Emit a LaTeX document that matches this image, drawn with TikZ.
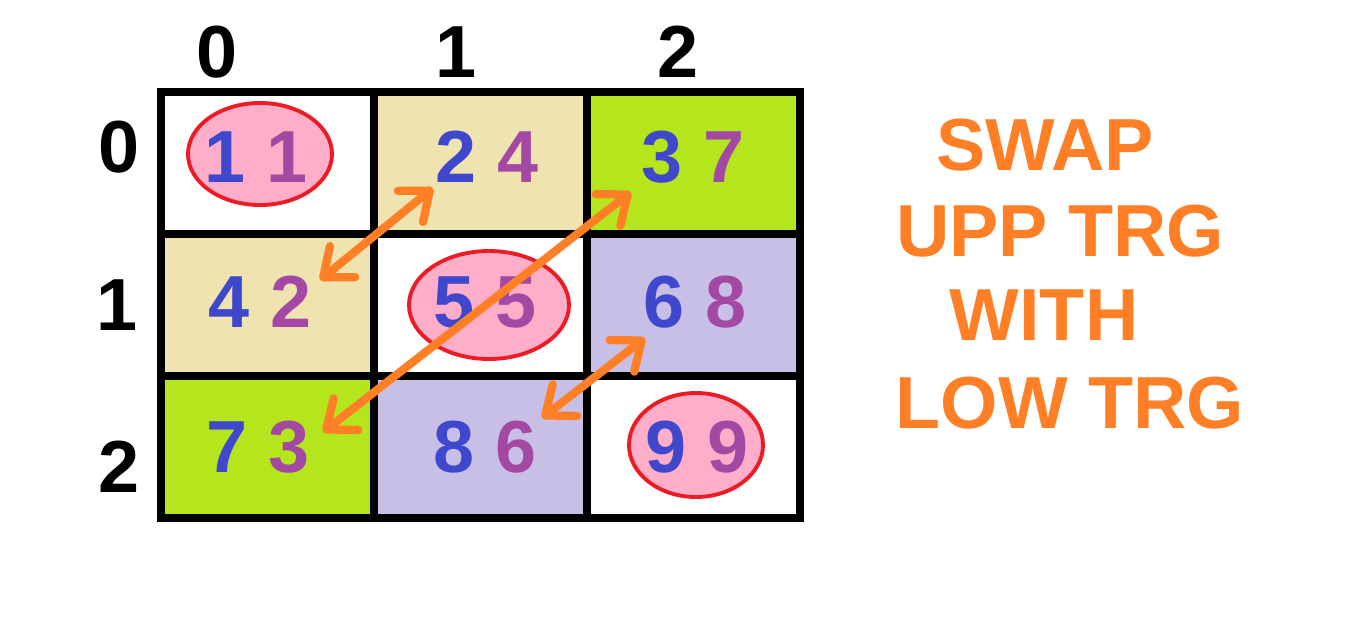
\documentclass[tikz,border=0pt]{standalone}
\usepackage{fontspec}
\setmainfont{Liberation Sans}
\usetikzlibrary{arrows.meta}
\definecolor{tancell}{HTML}{EFE4B0}
\definecolor{limecell}{HTML}{B5E61D}
\definecolor{lavcell}{HTML}{C8BFE7}
\definecolor{pinkoval}{HTML}{FFAEC9}
\definecolor{redline}{HTML}{ED1C24}
\definecolor{swaporange}{HTML}{FF7F27}
\definecolor{digblue}{HTML}{3F48CC}
\definecolor{digpurple}{HTML}{A349A4}
\newcommand{\pair}[2]{{\color{digblue}#1} {\color{digpurple}#2}}
\tikzset{
	bignum/.style={anchor=base,inner sep=0pt,font=\fontsize{42}{50}\selectfont\bfseries},
	swaptext/.style={bignum,text=swaporange},
	diag/.style={draw=redline,line width=2.2pt,fill=pinkoval},
	swaparrow/.style={swaporange,line width=4.7pt,
		{Straight Barb[round,length=0.5cm,width=0.8cm]}-{Straight Barb[round,length=0.5cm,width=0.8cm]}}
}

\begin{document}
\begin{tikzpicture}[x=0.02cm,y=-0.02cm]
		\useasboundingbox (0,0) rectangle (1360,640);
		% cell fills
		\fill[tancell] (374,92) rectangle (587,234);
		\fill[limecell] (587,92) rectangle (800,234);
		\fill[tancell] (161,234) rectangle (374,376);
		\fill[lavcell] (587,234) rectangle (800,376);
		\fill[limecell] (161,376) rectangle (374,518);
		\fill[lavcell] (374,376) rectangle (587,518);
		% diagonal ovals
		\draw[diag] (260,154) ellipse [x radius=72, y radius=51];
		\draw[diag] (489,305) ellipse [x radius=80, y radius=54];
		\draw[diag] (696,445) ellipse [x radius=67, y radius=52];
		% grid
		\draw[line width=4.5pt] (161,92) rectangle (800,518);
		\draw[line width=4.5pt] (374,92) -- (374,518);
		\draw[line width=4.5pt] (587,92) -- (587,518);
		\draw[line width=4.5pt] (161,234) -- (800,234);
		\draw[line width=4.5pt] (161,376) -- (800,376);

		% column and row numbers
		\node[bignum] (col0) at (217,77) {0};
		\node[bignum] (col1) at (456,77) {1};
		\node[bignum] (col2) at (678,77) {2};
		\node[bignum] (row0) at (119,172) {0};
		\node[bignum] (row1) at (117,330) {1};
		\node[bignum] (row2) at (119,492) {2};

		% cell entries
		\node[bignum] (c00) at (256,182) {\pair{1}{1}};
		\node[bignum] (c01) at (487,182) {\pair{2}{4}};
		\node[bignum] (c02) at (693,182) {\pair{3}{7}};
		\node[bignum] (c10) at (260,327) {\pair{4}{2}};
		\node[bignum] (c11) at (485,327) {\pair{5}{5}};
		\node[bignum] (c12) at (695,327) {\pair{6}{8}};
		\node[bignum] (c20) at (258,472) {\pair{7}{3}};
		\node[bignum] (c21) at (485,472) {\pair{8}{6}};
		\node[bignum] (c22) at (697,472) {\pair{9}{9}};

		% swap arrows
		\coordinate (lo10) at (320,280);
		\coordinate (up01) at (433,188);
		\coordinate (lo20) at (323,432);
		\coordinate (up02) at (631,192);
		\coordinate (lo21) at (542,418);
		\coordinate (up12) at (645,338);
		\draw[swaparrow] (lo10) -- (up01);
		\draw[swaparrow] (lo20) -- (up02);
		\draw[swaparrow] (lo21) -- (up12);

		% caption
		\node[swaptext] (swap) at (1045,170) {SWAP};
		\node[swaptext] (upper) at (1060,256) {UPP TRG};
		\node[swaptext] (with) at (1044,340) {WITH};
		\node[swaptext] (lower) at (1070,428) {LOW TRG};
\end{tikzpicture}
\end{document}
